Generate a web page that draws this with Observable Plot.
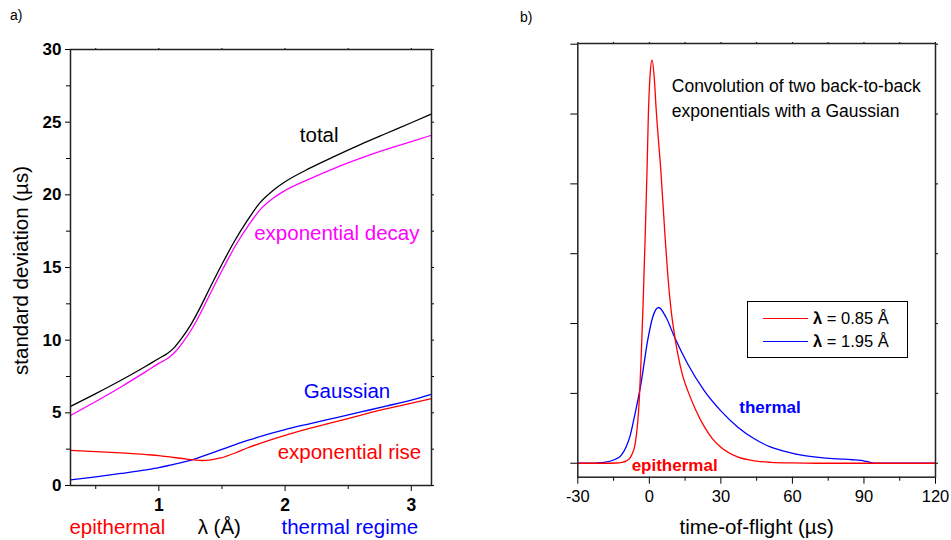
<!DOCTYPE html>
<html>
<head>
<meta charset="utf-8">
<script src="https://cdn.jsdelivr.net/npm/d3@7"></script>
<script src="https://cdn.jsdelivr.net/npm/@observablehq/plot@0.6"></script>
<style>
  html, body { margin: 0; padding: 0; background: #fff; }
  #wrap { position: relative; width: 951px; height: 540px; overflow: hidden; background: #fff;
          font-family: "Liberation Sans", Arial, sans-serif; color: #000; }
  #wrap svg { position: absolute; top: 0; }
  .panel-tag { position: absolute; font-size: 14px; line-height: 14px; }
  #legend { position: absolute; left: 747px; top: 301px; width: 161px; height: 57px; box-sizing: border-box;
            border: 1px solid #000; background: #fff; font-size: 16.5px; }
  #legend .row { position: absolute; left: 0; height: 20px; display: flex; align-items: center; }
  #legend .sw { width: 45px; height: 0; border-top: 1.3px solid; margin-left: 15px; margin-right: 5px; }
</style>
</head>
<body>
<div id="wrap">
  <div class="panel-tag" style="left:10px;top:8px;">a)</div>
  <div class="panel-tag" style="left:520px;top:10px;">b)</div>
</div>
<script>
// ---------------- Panel a) data: standard deviation (µs) vs wavelength λ (Å)
const lambdaDomain = [0.3, 3.16];
const sigmaDomain = [0, 30];
const aYTicks = [0, 5, 10, 15, 20, 25, 30];
const aYMinor = [2.5, 7.5, 12.5, 17.5, 22.5, 27.5];
const aXTicks = [1, 2, 3];
const aXMinor = [0.5, 1.5, 2.5];

const total = [[0.30,5.44],[0.50,6.32],[0.70,7.24],[0.90,8.22],[1.00,8.74],[1.07,9.1],[1.12,9.47],[1.18,10.12],[1.25,11.02],[1.32,12.12],[1.40,13.52],[1.50,15.22],[1.60,16.82],[1.70,18.22],[1.80,19.45],[1.90,20.27],[2.00,20.9],[2.20,21.85],[2.40,22.68],[2.60,23.47],[2.80,24.22],[3.00,24.96],[3.16,25.57]];
const expDecay = [[0.30,4.82],[0.50,5.78],[0.70,6.78],[0.90,7.85],[1.00,8.4],[1.08,8.8],[1.13,9.2],[1.19,9.85],[1.26,10.75],[1.33,11.85],[1.41,13.25],[1.51,14.95],[1.61,16.55],[1.71,17.9],[1.81,19.05],[1.91,19.8],[2.00,20.3],[2.20,21.12],[2.40,21.86],[2.60,22.52],[2.80,23.12],[3.00,23.66],[3.16,24.1]];
const gaussian = [[0.30,0.39],[0.50,0.6],[0.70,0.83],[0.90,1.08],[1.00,1.23],[1.10,1.42],[1.20,1.62],[1.30,1.87],[1.40,2.17],[1.50,2.49],[1.60,2.8],[1.73,3.17],[1.86,3.52],[2.00,3.85],[2.20,4.26],[2.40,4.66],[2.60,5.06],[2.80,5.46],[3.00,5.88],[3.16,6.28]];
const expRise = [[0.30,2.41],[0.50,2.33],[0.70,2.24],[0.90,2.13],[1.00,2.06],[1.10,1.95],[1.20,1.84],[1.28,1.76],[1.34,1.72],[1.40,1.75],[1.49,1.9],[1.60,2.22],[1.70,2.58],[1.85,3.04],[2.00,3.45],[2.15,3.82],[2.34,4.25],[2.55,4.73],[2.73,5.14],[2.95,5.56],[3.16,5.97]];

const aCurveNames = ["total", "exponential decay", "Gaussian", "exponential rise"];
const aCurveColors = ["#000000", "#ff00ff", "#0000ff", "#ff0000"];
const aLabelX = [2.27, 2.41, 2.49, 2.51];
const aLabelY = [24.09, 17.36, 6.49, 2.29];

const aBottomText = ["epithermal", "λ (Å)", "thermal regime"];
const aBottomX = [0.671, 1.479, 2.513];
const aBottomColor = ["#ff0000", "#000000", "#0000ff"];
const aYTitle = "standard deviation (µs)";

// ---------------- Panel b) data: peak profiles vs time-of-flight (µs)
const tofDomain = [-30, 120];
const intensityDomain = [-0.2, 6.01];
const bXTicks = [-30, 0, 30, 60, 90, 120];
const bXMinor = [-15, 15, 45, 75, 105];
const bYTicks = [0, 1, 2, 3, 4, 5, 6];

const profile085 = [[-30,0],[-20,0],[-14,0.003],[-11.5,0.012],[-9.8,0.03],[-8,0.08],[-7,0.15],[-6.3,0.22],[-5.6,0.36],[-4.9,0.58],[-4.2,0.92],[-3.5,1.45],[-2.6,2.3],[-1.8,3.19],[-1.0,4.15],[-0.4,5.0],[0.3,5.55],[1.1,5.77],[2.1,5.5],[2.8,5.1],[4.9,4.15],[6.7,3.19],[7.7,2.71],[9.1,2.2],[10.5,1.85],[11.9,1.57],[14,1.25],[16.1,1.04],[19.5,0.76],[23.1,0.52],[26.5,0.35],[30,0.23],[37,0.09],[45,0.03],[51,0.013],[60,0.004],[70,0],[120,0]];
const profile195 = [[-30,0],[-25,0.002],[-21.5,0.006],[-18.9,0.012],[-14.7,0.05],[-11.9,0.11],[-9.8,0.23],[-8,0.4],[-6.3,0.66],[-3.5,1.14],[-0.7,1.76],[1.4,2.09],[3.9,2.23],[7,2.09],[10.5,1.81],[16.1,1.42],[23,1.04],[30,0.75],[37,0.52],[44,0.35],[51,0.23],[58,0.16],[65,0.11],[72,0.08],[79,0.063],[85,0.05],[88.7,0.04],[91,0.025],[94.3,0],[120,0]];

const bSeriesNames = ["λ = 0.85 Å", "λ = 1.95 Å"];
const bSeriesColors = ["#ff0000", "#0000ff"];
const bNote = "Convolution of two back-to-back\nexponentials with a Gaussian";
const bNoteX = 9.4, bNoteY = 5.256;
const bRegimeText = ["thermal", "epithermal"];
const bRegimeX = [50.6, 10.6];
const bRegimeY = [0.80, -0.033];
const bRegimeColor = ["#0000ff", "#ff0000"];
const bXTitle = "time-of-flight (µs)";

const FONT = "'Liberation Sans', Arial, sans-serif";
const blank = () => "";

// ---------------- Panel a)
const aLabels = aCurveNames.map((t, i) => ({t, x: aLabelX[i], y: aLabelY[i], c: aCurveColors[i]}));
const aBottom = aBottomText.map((t, i) => ({t, x: aBottomX[i], c: aBottomColor[i]}));

const plotA = Plot.plot({
  width: 470, height: 540,
  marginLeft: 70, marginRight: 39, marginTop: 49, marginBottom: 55,
  x: {domain: lambdaDomain},
  y: {domain: sigmaDomain},
  style: {fontFamily: FONT, background: "transparent", color: "#000", overflow: "visible"},
  marks: [
    Plot.axisY({ticks: aYTicks, tickSize: 5, tickPadding: 4, tickFormat: "d", fontSize: 17, fontWeight: "bold", label: null}),
    Plot.axisY({ticks: aYMinor, tickSize: 4, tickFormat: blank, label: null}),
    Plot.axisY({anchor: "right", ticks: aYTicks.concat(aYMinor), tickSize: 2, tickFormat: blank, label: null}),
    Plot.axisX({ticks: aXTicks, tickSize: 6, tickPadding: 7, tickFormat: "d", fontSize: 17.5, fontWeight: "bold", label: null}),
    Plot.axisX({ticks: aXMinor, tickSize: 4, tickFormat: blank, label: null}),
    Plot.axisX({anchor: "top", ticks: aXTicks.concat(aXMinor), tickSize: 2, tickFormat: blank, label: null}),
    Plot.line(total, {stroke: aCurveColors[0], strokeWidth: 1.3, curve: "monotone-x"}),
    Plot.line(expDecay, {stroke: aCurveColors[1], strokeWidth: 1.3, curve: "monotone-x"}),
    Plot.line(gaussian, {stroke: aCurveColors[2], strokeWidth: 1.3, curve: "monotone-x"}),
    Plot.line(expRise, {stroke: aCurveColors[3], strokeWidth: 1.3, curve: "monotone-x"}),
    Plot.frame({stroke: "#222", strokeWidth: 1.5}),
    Plot.text(aLabels, {x: "x", y: "y", text: "t", fill: "c", fontSize: 20.5}),
    Plot.text(aBottom, {x: "x", text: "t", fill: "c", frameAnchor: "bottom", lineAnchor: "middle", textAnchor: "middle", dy: 42, fontSize: 20.5}),
    Plot.text([aYTitle], {frameAnchor: "left", textAnchor: "middle", lineAnchor: "middle", rotate: -90, dx: -49, dy: 3, fontSize: 20.5})
  ]
});
plotA.style.left = "0px";

// ---------------- Panel b)
const bRegime = bRegimeText.map((t, i) => ({t, x: bRegimeX[i], y: bRegimeY[i], c: bRegimeColor[i]}));

const plotB = Plot.plot({
  width: 481, height: 540,
  marginLeft: 107.3, marginRight: 16, marginTop: 43, marginBottom: 63.3,
  x: {domain: tofDomain},
  y: {domain: intensityDomain},
  style: {fontFamily: FONT, background: "transparent", color: "#000", overflow: "visible"},
  marks: [
    Plot.axisY({ticks: bYTicks, tickSize: 7, tickFormat: blank, label: null}),
    Plot.axisY({anchor: "right", ticks: bYTicks, tickSize: 2, tickFormat: blank, label: null}),
    Plot.axisX({ticks: bXTicks, tickSize: 7, tickPadding: 6, tickFormat: d => String(d), fontSize: 16.5, label: null}),
    Plot.axisX({ticks: bXMinor, tickSize: 4, tickFormat: blank, label: null}),
    Plot.axisX({anchor: "top", ticks: bXTicks.concat(bXMinor), tickSize: 2, tickFormat: blank, label: null}),
    Plot.line(profile195, {stroke: bSeriesColors[1], strokeWidth: 1.3, curve: "monotone-x"}),
    Plot.line(profile085, {stroke: bSeriesColors[0], strokeWidth: 1.3, curve: "monotone-x"}),
    Plot.frame({stroke: "#222", strokeWidth: 1.5}),
    Plot.text([bNote], {x: bNoteX, y: bNoteY, textAnchor: "start", lineAnchor: "middle", lineHeight: 1.43, fontSize: 17.5}),
    Plot.text(bRegime, {x: "x", y: "y", text: "t", fill: "c", fontSize: 17, fontWeight: "bold"}),
    Plot.text([bXTitle], {frameAnchor: "bottom", textAnchor: "middle", lineAnchor: "middle", dy: 50, fontSize: 20.5})
  ]
});
plotB.style.left = "470px";

const wrap = document.getElementById("wrap");
wrap.appendChild(plotA);
wrap.appendChild(plotB);

// legend
const legend = document.createElement("div");
legend.id = "legend";
bSeriesNames.forEach((name, i) => {
  const row = document.createElement("div");
  row.className = "row";
  row.style.top = (6 + i * 23.4) + "px";
  const sw = document.createElement("div");
  sw.className = "sw";
  sw.style.borderTopColor = bSeriesColors[i];
  const label = document.createElement("span");
  label.innerHTML = "<b>" + name.slice(0, 1) + "</b>" + name.slice(1);
  row.appendChild(sw);
  row.appendChild(label);
  legend.appendChild(row);
});
wrap.appendChild(legend);
</script>
</body>
</html>
